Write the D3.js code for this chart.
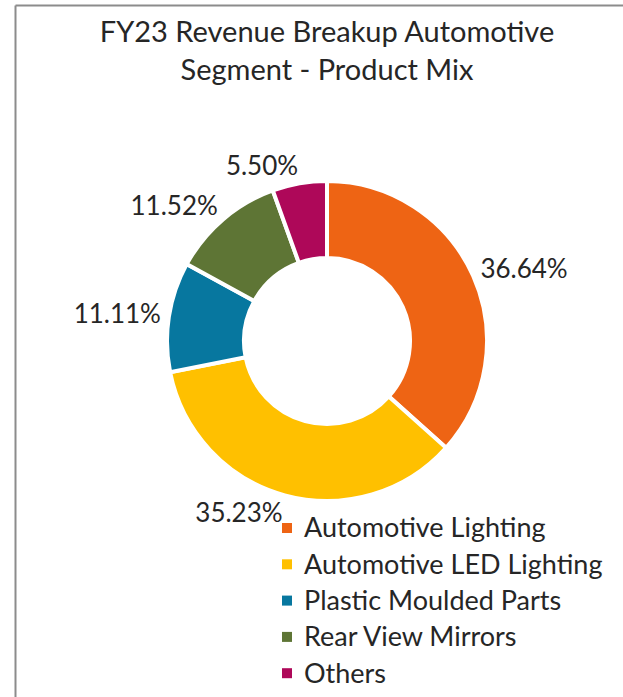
<!DOCTYPE html>
<html>
<head>
<meta charset="utf-8">
<script src="https://cdn.jsdelivr.net/npm/d3@7"></script>
<style>
  html, body { margin: 0; background: #fff; overflow: hidden; }
  svg { display: block; }
  text { font-family: Lato, 'Open Sans', sans-serif; fill: #262626; }
</style>
</head>
<body>
<svg id="chart" width="623" height="697"></svg>
<script>
const titleLines = ['FY23 Revenue Breakup Automotive', 'Segment - Product Mix']
const categories = ['Automotive Lighting', 'Automotive LED Lighting', 'Plastic Moulded Parts', 'Rear View Mirrors', 'Others']
const shares = [36.64, 35.23, 11.11, 11.52, 5.50]
const colors = ['#ee6414', '#ffc000', '#07779f', '#5e7535', '#ae0859']

const svg = d3.select('#chart')
const width = +svg.attr('width')
const height = +svg.attr('height')

// chart frame: only its top and left edges fall inside the window
const frame = svg.append('g').attr('stroke', '#8c8c8c').attr('stroke-width', 2)
frame.append('line').attr('x1', 15.5).attr('y1', 5.5).attr('x2', width).attr('y2', 5.5)
frame.append('line').attr('x1', 15.5).attr('y1', 5.5).attr('x2', 15.5).attr('y2', height)

const cx = 327
const cy = 341
const outer = 160
const inner = 83

svg.append('g').selectAll('text')
  .data(titleLines)
  .join('text')
  .attr('x', cx)
  .attr('y', (d, i) => 42 + i * 38)
  .attr('text-anchor', 'middle')
  .attr('font-size', 29)
  .text(d => d)

const pie = d3.pie().sort(null).value(d => d)
const arc = d3.arc().innerRadius(inner).outerRadius(outer)
const arcs = pie(shares)

const g = svg.append('g').attr('transform', `translate(${cx},${cy})`)
g.selectAll('path')
  .data(arcs)
  .join('path')
  .attr('d', arc)
  .attr('fill', (d, i) => colors[i])
  .attr('stroke', '#fff')
  .attr('stroke-width', 4)

const fmt = d3.format('.2f')
const labelR = 168
const mid = d => (d.startAngle + d.endAngle) / 2
g.selectAll('text.lbl')
  .data(arcs)
  .join('text')
  .attr('class', 'lbl')
  .attr('font-size', 26)
  .attr('dy', '0.35em')
  .attr('x', d => Math.sin(mid(d)) * labelR)
  .attr('y', d => -Math.cos(mid(d)) * (labelR + 10))
  .attr('text-anchor', d => Math.sin(mid(d)) >= 0 ? 'start' : 'end')
  .text(d => fmt(d.data) + '%')

// legend
const legend = svg.append('g').attr('transform', 'translate(282,528)')
const row = legend.selectAll('g')
  .data(categories)
  .join('g')
  .attr('transform', (d, i) => `translate(0,${i * 36.3})`)
row.append('rect')
  .attr('x', 0).attr('y', -5)
  .attr('width', 10).attr('height', 10)
  .attr('fill', (d, i) => colors[i])
row.append('text')
  .attr('x', 22)
  .attr('dy', '0.35em')
  .attr('font-size', 27)
  .text(d => d)
</script>
</body>
</html>
